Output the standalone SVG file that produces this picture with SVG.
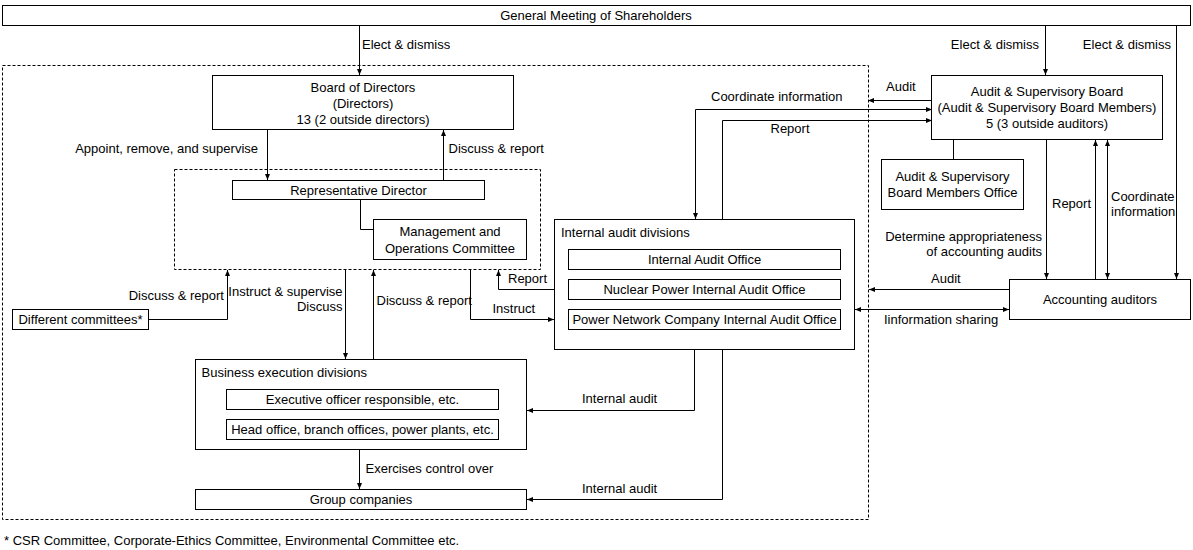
<svg xmlns="http://www.w3.org/2000/svg" width="1193" height="550" viewBox="0 0 1193 550">
<style>
text{font-family:"Liberation Sans",Arial,sans-serif;font-size:13px;fill:#000}
.m{text-anchor:middle}
.e{text-anchor:end}
rect{fill:#fff;stroke:#000;stroke-width:1}
.d{fill:none;stroke:#000;stroke-width:1;stroke-dasharray:3 2}
.c{fill:none;stroke:#000;stroke-width:1}
.a{marker-end:url(#ar)}
.b{marker-start:url(#ar);marker-end:url(#ar)}
</style>
<defs>
<marker id="ar" markerUnits="userSpaceOnUse" markerWidth="7" markerHeight="7" refX="6" refY="3" orient="auto-start-reverse">
<path d="M0,0.5 L6,3 L0,5.5 z" fill="#000"/>
</marker>
</defs>
<rect x="0" y="0" width="1193" height="550" style="fill:#fff;stroke:none"/>
<rect class="d" x="2.5" y="65.5" width="866" height="454"/>
<rect class="d" x="174.5" y="169.5" width="366" height="100"/>

<g id="connectors">
<path class="c a" d="M359.5,25.5 V75"/>
<path class="c a" d="M1045.5,25.5 V75"/>
<path class="c a" d="M1176.5,25.5 V279"/>
<path class="c a" d="M267.5,129.5 V180"/>
<path class="c a" d="M443.5,180.5 V130"/>
<path class="c" d="M360.5,199.5 V229.5 H373.5"/>
<path class="c a" d="M148.5,319.5 H227.5 V270"/>
<path class="c a" d="M345.5,269.5 V359"/>
<path class="c a" d="M373.5,359.5 V270"/>
<path class="c a" d="M470.5,269.5 V319.5 H554"/>
<path class="c a" d="M554.5,289.5 H498.5 V270"/>
<path class="c b" d="M695.5,219 V109.5 H932"/>
<path class="c a" d="M722.5,219.5 V120.5 H932"/>
<path class="c a" d="M931.5,100.5 H868"/>
<path class="c" d="M953.5,139.5 V159.5"/>
<path class="c a" d="M1046.5,139.5 V279"/>
<path class="c a" d="M1095.5,279.5 V140"/>
<path class="c b" d="M1107.5,279 V140"/>
<path class="c a" d="M1009.5,289.5 H869"/>
<path class="c b" d="M855,309.5 H1009"/>
<path class="c a" d="M694.5,349.5 V410.5 H527"/>
<path class="c a" d="M722.5,349.5 V499.5 H527"/>
<path class="c a" d="M359.5,449.5 V489"/>
</g>

<g id="gm"><rect x="2.5" y="5.5" width="1188" height="20"/><text class="m" x="596" y="20">General Meeting of Shareholders</text></g>
<g id="board"><rect x="212.5" y="75.5" width="301" height="54"/>
<text class="m" x="363" y="91.5">Board of Directors</text>
<text class="m" x="363" y="107.5">(Directors)</text>
<text class="m" x="363" y="123.5">13 (2 outside directors)</text></g>
<g id="repdir"><rect x="232.5" y="180.5" width="252" height="19"/><text class="m" x="358.5" y="194.5">Representative Director</text></g>
<g id="mgmt"><rect x="373.5" y="219.5" width="153" height="40"/>
<text class="m" x="450" y="235.5">Management and</text>
<text class="m" x="450" y="252.5">Operations Committee</text></g>
<g id="committees"><rect x="12.5" y="309.5" width="136" height="20"/><text class="m" x="80.5" y="324">Different committees*</text></g>
<g id="internal"><rect x="554.5" y="219.5" width="300" height="130"/>
<text x="561" y="237">Internal audit divisions</text>
<rect x="568.5" y="249.5" width="272" height="20"/><text class="m" x="704.5" y="264">Internal Audit Office</text>
<rect x="568.5" y="279.5" width="272" height="20"/><text class="m" x="704.5" y="294">Nuclear Power Internal Audit Office</text>
<rect x="568.5" y="309.5" width="272" height="20"/><text class="m" x="704.5" y="324">Power Network Company Internal Audit Office</text></g>
<g id="asb"><rect x="931.5" y="75.5" width="231" height="64"/>
<text class="m" x="1047" y="96">Audit &amp; Supervisory Board</text>
<text class="m" x="1047" y="112">(Audit &amp; Supervisory Board Members)</text>
<text class="m" x="1047" y="128">5 (3 outside auditors)</text></g>
<g id="asboffice"><rect x="881.5" y="159.5" width="142" height="50"/>
<text class="m" x="952.5" y="181">Audit &amp; Supervisory</text>
<text class="m" x="952.5" y="197">Board Members Office</text></g>
<g id="accounting"><rect x="1009.5" y="279.5" width="181" height="40"/><text class="m" x="1100" y="304">Accounting auditors</text></g>
<g id="business"><rect x="195.5" y="359.5" width="331" height="90"/>
<text x="201.5" y="377">Business execution divisions</text>
<rect x="226.5" y="389.5" width="272" height="20"/><text class="m" x="362.5" y="404">Executive officer responsible, etc.</text>
<rect x="226.5" y="419.5" width="272" height="20"/><text class="m" x="362.5" y="434">Head office, branch offices, power plants, etc.</text></g>
<g id="group"><rect x="195.5" y="489.5" width="331" height="20"/><text class="m" x="361" y="504">Group companies</text></g>

<g id="labels">
<text x="362" y="48.5">Elect &amp; dismiss</text>
<text class="e" x="1039" y="48.5">Elect &amp; dismiss</text>
<text class="e" x="1171" y="48.5">Elect &amp; dismiss</text>
<text class="e" x="258" y="152.5">Appoint, remove, and supervise</text>
<text x="448.5" y="152.5">Discuss &amp; report</text>
<text class="e" x="224" y="299.5">Discuss &amp; report</text>
<text class="e" x="342.5" y="296">Instruct &amp; supervise</text>
<text class="e" x="342.5" y="311">Discuss</text>
<text x="376.5" y="304.5">Discuss &amp; report</text>
<text x="508" y="283">Report</text>
<text x="492.5" y="312.5">Instruct</text>
<text x="711" y="101">Coordinate information</text>
<text x="770.5" y="133">Report</text>
<text x="886" y="91">Audit</text>
<text x="1052" y="208">Report</text>
<text x="1111" y="201">Coordinate</text>
<text x="1111" y="216">information</text>
<text class="e" x="1042" y="241">Determine appropriateness</text>
<text class="e" x="1042" y="256">of accounting audits</text>
<text x="931" y="283">Audit</text>
<text x="884" y="323.5">Iinformation sharing</text>
<text x="582" y="403">Internal audit</text>
<text x="582" y="492.5">Internal audit</text>
<text x="365.5" y="472.5">Exercises control over</text>
<text x="4" y="545">* CSR Committee, Corporate-Ethics Committee, Environmental Committee etc.</text>
</g>
</svg>
